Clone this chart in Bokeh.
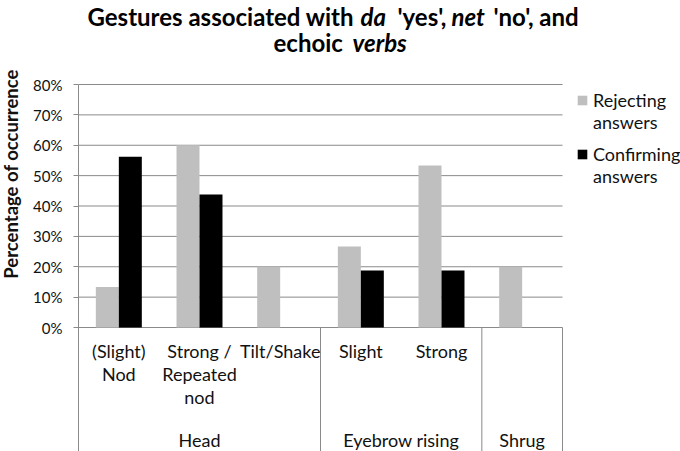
import math
from bokeh.plotting import figure
from bokeh.models import (Range1d, FixedTicker, NumeralTickFormatter, Label,
                          Legend, LegendItem, ColumnDataSource, LinearAxis)
from bokeh.transform import dodge
from bokeh.core.properties import value
from bokeh.embed import file_html
from bokeh.resources import INLINE

# ---------------- data ----------------
categories = ["(Slight)\nNod", "Strong /\nRepeated\nnod", "Tilt/Shake", "Slight", "Strong", ""]
groups = ["Head", "Eyebrow rising", "Shrug"]
group_sizes = [3, 2, 1]
rejecting = [13.33, 60.0, 20.0, 26.67, 53.33, 20.0]      # % Rejecting answers
confirming = [56.25, 43.75, 0.0, 18.75, 18.75, 0.0]      # % Confirming answers
y_ticks = [0, 10, 20, 30, 40, 50, 60, 70, 80]
series_names = ["Rejecting\nanswers", "Confirming\nanswers"]

# ---------------- styles ----------------
FONT = "Lato"
GRID = "#8a8a8a"
GRAY = "#bfbfbf"
BLACK = "#000000"
TXT = "#111111"

W, H = 680, 451
X0 = 78                      # pixel column of the value axis
Y0 = 327                     # pixel row of 0 %
PXX = 6.0 / 484.0            # data per pixel (horizontal)
PXY = 0.8 / 243.0            # data per pixel (vertical)

def xd(px):
    return (px - X0) * PXX

def yd(py):
    return (Y0 - py) * PXY

n = len(categories)
xs = [i + 0.5 for i in range(n)]
src = ColumnDataSource(dict(x=xs, rej=[v / 100 for v in rejecting],
                            conf=[v / 100 for v in confirming]))

p = figure(width=W, height=H, x_range=Range1d(xd(0), xd(W)), y_range=Range1d(yd(H), yd(0)),
           output_backend="svg", toolbar_location=None, x_axis_location=None,
           y_axis_location=None,
           min_border_left=0, min_border_right=0, min_border_top=0, min_border_bottom=0)
p.outline_line_color = None
p.xgrid.visible = False
p.ygrid.visible = False

tick_vals = [t / 100 for t in y_ticks]
ya = LinearAxis(fixed_location=0, ticker=FixedTicker(ticks=tick_vals),
                formatter=NumeralTickFormatter(format="0%"),
                bounds=(yd(H), tick_vals[-1]),
                axis_line_color=GRID, major_tick_line_color=GRID, major_tick_out=5,
                major_tick_in=0, minor_tick_line_color=None, major_label_standoff=11,
                major_label_text_font=FONT, major_label_text_font_size="15px",
                major_label_text_color=TXT)
p.add_layout(ya, "left")

# horizontal gridlines over the plot area
nb = sum(group_sizes)
p.segment(x0=[0] * len(tick_vals), y0=tick_vals, x1=[nb] * len(tick_vals), y1=tick_vals,
          line_color=GRID, line_width=1)

BW = 0.285
r1 = p.vbar(x=dodge("x", -BW / 2, range=p.x_range), top="rej", width=BW, bottom=0,
            source=src, fill_color=GRAY, line_color=None)
r2 = p.vbar(x=dodge("x", BW / 2, range=p.x_range), top="conf", width=BW, bottom=0,
            source=src, fill_color=BLACK, line_color=None)

# group separators below the axis
bounds = []
acc = 0
centers = []
for g in group_sizes:
    centers.append(acc + g / 2)
    acc += g
    bounds.append(acc)
p.segment(x0=bounds, y0=[0] * len(bounds), x1=bounds, y1=[yd(H)] * len(bounds),
          line_color=GRID, line_width=1)

# category labels
p.text(x=xs, y=[yd(339)] * n, text=categories, text_align="center", text_baseline="top",
       text_font=value(FONT), text_font_size="18px", text_color=TXT, text_line_height=1.06)
# group labels
p.text(x=centers, y=[yd(439)] * len(centers), text=groups, text_align="center",
       text_baseline="alphabetic", text_font=value(FONT), text_font_size="18px", text_color=TXT)

# value-axis title
p.add_layout(Label(x=xd(10), y=yd(173.5), text="Percentage of occurrence", angle=math.pi / 2,
                   text_align="center", text_baseline="middle", text_font=FONT,
                   text_font_size="18.5px", text_font_style="bold", text_color=TXT))

# title pieces (bold, some italic); y is the top of each text box
title_parts = [
    ("Gestures associated with", 87, 1, "bold"),
    ("da", 360, 1, "bold italic"),
    ("'yes',", 397, 1, "bold"),
    ("net", 451, 1, "bold italic"),
    ("'no', and", 493, 1, "bold"),
    ("echoic", 273, 27, "bold"),
    ("verbs", 352, 27, "bold italic"),
]
for txt, px, py, style in title_parts:
    p.add_layout(Label(x=xd(px), y=yd(py), text=txt, text_align="left",
                       text_baseline="top", text_font=FONT, text_font_size="24px",
                       text_font_style=style, text_color=BLACK))

# legend: one block per series; the leading blank line keeps the swatch on the first text line
for name, rend, vy in [(series_names[0], r1, 318), (series_names[1], r2, 264)]:
    lg = Legend(items=[LegendItem(label="\n" + name, renderers=[rend])],
                location=(576, vy), glyph_width=12, glyph_height=12, padding=0, margin=0,
                spacing=0, label_standoff=5, label_text_font=FONT, label_text_font_size="18px",
                label_text_color=TXT, border_line_color=None, background_fill_alpha=0)
    p.add_layout(lg)

open("out.html", "w").write(file_html(p, INLINE))
